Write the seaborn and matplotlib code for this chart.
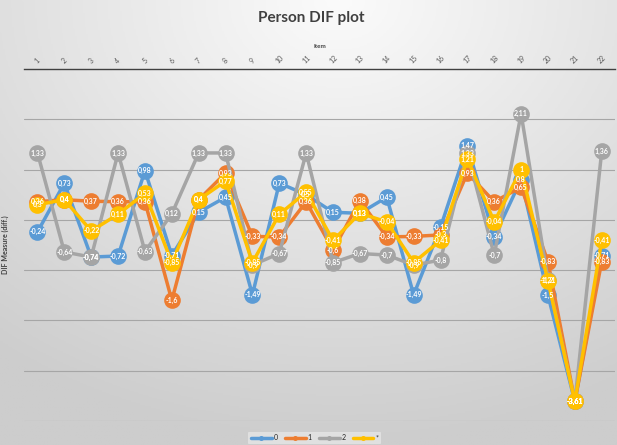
import numpy as np
import pandas as pd
import matplotlib.pyplot as plt
import seaborn as sns

# Item numbers and DIF values per group
items = list(range(1, 23))
group_0 = [-0.24, 0.73, -0.74, -0.72, 0.98, -0.71, 0.15, 0.45, -1.49, 0.73, 0.5,
           0.15, 0.13, 0.45, -1.49, -0.15, 1.47, -0.34, 0.8, -1.5, -3.61, -0.71]
group_1 = [0.36, 0.4, 0.37, 0.36, 0.36, -1.6, 0.4, 0.93, -0.33, -0.34, 0.36,
           -0.6, 0.38, -0.34, -0.33, -0.3, 0.93, 0.36, 0.65, -0.83, -3.61, -0.83]
group_2 = [1.33, -0.64, -0.74, 1.33, -0.63, 0.12, 1.33, 1.33, -0.9, -0.67, 1.33,
           -0.85, -0.67, -0.7, -0.9, -0.8, 1.33, -0.7, 2.11, -1.2, -3.61, 1.36]
group_star = [0.3, 0.4, -0.22, 0.11, 0.53, -0.85, 0.4, 0.77, -0.85, 0.11, 0.55,
              -0.41, 0.13, -0.04, -0.85, -0.41, 1.21, -0.04, 1.0, -1.21, -3.61, -0.41]
groups = ['0', '1', '2', '*']
colors = ['#5B9BD5', '#ED7D31', '#A5A5A5', '#FFC000']

df = pd.DataFrame({
    'Item': items * 4,
    'DIF': group_0 + group_1 + group_2 + group_star,
    'Group': [g for g in groups for _ in items],
})

sns.set_style('white')
plt.rcParams['font.family'] = ['Lato', 'DejaVu Sans']

fig = plt.figure(figsize=(6.17, 4.45), dpi=100)

# Soft radial background like the original chart area
bg = fig.add_axes([0, 0, 1, 1], zorder=-10)
yy, xx = np.mgrid[0:1:300j, 0:1:400j]
r = np.sqrt(((xx - 0.55) * 1.1) ** 2 + (yy * 1.0) ** 2)
bg.imshow(np.clip(r, 0, 1), cmap=sns.blend_palette(['#fbfbfb', '#cdcdcd'], as_cmap=True),
          aspect='auto', extent=[0, 1, 1, 0], vmin=0, vmax=1)
bg.axis('off')

ax = fig.add_axes([0.039, 0.054, 0.958, 0.791])
ax.set_facecolor('none')

sns.lineplot(data=df, x='Item', y='DIF', hue='Group', hue_order=groups,
             palette=colors, marker='o', markersize=12, markeredgewidth=0,
             linewidth=2.5, ax=ax, legend=True)

# Data labels inside markers
for g, vals in zip(groups, [group_0, group_1, group_2, group_star]):
    for x, v in zip(items, vals):
        ax.text(x, v, f'{v:g}'.replace('.', ','), color='white', fontsize=5,
                fontweight='bold', ha='center', va='center', zorder=10)

ax.set_xlim(0.5, 22.5)
ax.set_ylim(-4, 3)
ax.xaxis.tick_top()
ax.xaxis.set_label_position('top')
ax.set_xticks(items)
ax.set_xticklabels([str(i) for i in items], rotation=45, fontsize=5, color='#595959')
ax.set_xlabel('Item', fontsize=4.5, fontweight='bold', color='#404040', labelpad=4)
ax.set_yticks(range(-4, 3))
ax.set_yticklabels([])
ax.tick_params(length=0, pad=3)
ax.set_ylabel('DIF Measure (diff.)', fontsize=5, fontweight='bold', color='#404040', labelpad=8)
ax.grid(axis='y', color='#a6a6a6', linewidth=0.8)
for s in ['left', 'right', 'bottom']:
    ax.spines[s].set_visible(False)
ax.spines['top'].set_color('#404040')
ax.spines['top'].set_linewidth(1)

handles, labels = ax.get_legend_handles_labels()
ax.legend_.remove()
leg = fig.legend(handles, labels, loc='center', bbox_to_anchor=(0.51, 0.016), ncol=4,
                 fontsize=5, frameon=True, handlelength=3, columnspacing=1,
                 handletextpad=0.3, markerscale=0.3)
leg.get_frame().set_facecolor('#e6e6e6')
leg.get_frame().set_edgecolor('none')

fig.suptitle('Person DIF plot', x=0.505, y=0.975, fontsize=11, fontweight='bold', color='#404040')

plt.savefig('out.png', dpi=100)
